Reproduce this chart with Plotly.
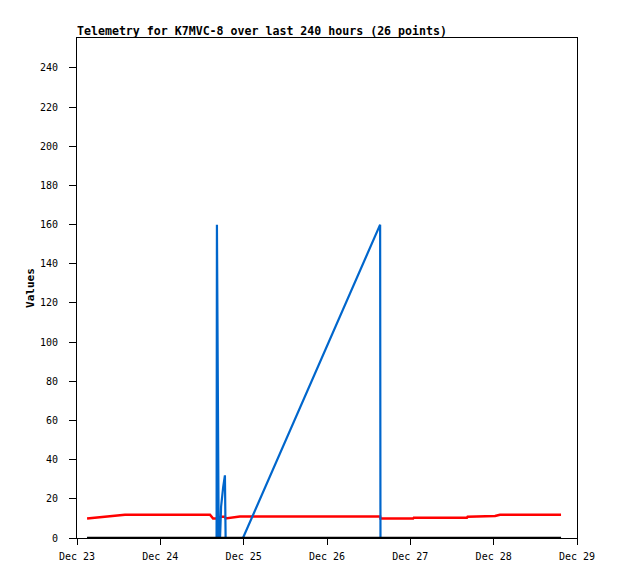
import plotly.graph_objects as go

# Sample times (26 telemetry points)
times = [
    "2012-12-23 02:54", "2012-12-23 08:24", "2012-12-23 13:48",
    "2012-12-24 14:18", "2012-12-24 15:12", "2012-12-24 16:12",
    "2012-12-24 16:18", "2012-12-24 16:36", "2012-12-24 16:48",
    "2012-12-24 17:12", "2012-12-24 17:30", "2012-12-24 18:06",
    "2012-12-24 18:36", "2012-12-24 18:48", "2012-12-24 20:54",
    "2012-12-24 22:54", "2012-12-24 23:48", "2012-12-26 15:18",
    "2012-12-26 15:24", "2012-12-27 00:48", "2012-12-27 01:00",
    "2012-12-27 16:18", "2012-12-27 16:30", "2012-12-28 00:24",
    "2012-12-28 01:48", "2012-12-28 19:24",
]

red_values = [
    9.9, 11.0, 11.9, 11.9, 9.9, 9.9, 10.0, 10.3, 10.5, 10.9, 10.9, 10.9,
    10.9, 10.0, 10.6, 11.0, 11.0, 11.0, 9.9, 9.9, 10.4, 10.4, 10.9, 11.2,
    11.9, 11.9,
]

blue_values = [
    0, 0, 0, 0, 0, 0, 160, 80, 0, 0, 16, 26, 32, 0, 0, 0, 0, 160, 0, 0,
    0, 0, 0, 0, 0, 0,
]

black_values = [0] * 26

y_tick_vals = list(range(0, 241, 20))
x_tick_vals = ["2012-12-23", "2012-12-24", "2012-12-25", "2012-12-26",
               "2012-12-27", "2012-12-28", "2012-12-29"]
x_tick_text = ["Dec 23", "Dec 24", "Dec 25", "Dec 26", "Dec 27", "Dec 28", "Dec 29"]

mono = "DejaVu Sans Mono"

# page body has an 8px margin, so the figure is sized to fit inside it
W, H = 610, 571

fig = go.Figure()
fig.add_trace(go.Scatter(x=times, y=red_values, mode="lines",
                         line=dict(color="#FF0000", width=2.5), showlegend=False))
fig.add_trace(go.Scatter(x=times, y=blue_values, mode="lines",
                         line=dict(color="#0066CC", width=2.2), showlegend=False))
fig.add_trace(go.Scatter(x=times, y=black_values, mode="lines",
                         line=dict(color="#000000", width=2.5), showlegend=False))

fig.update_layout(
    width=W, height=H,
    margin=dict(l=69, r=41, t=30, b=41, autoexpand=False),
    paper_bgcolor="white", plot_bgcolor="white",
    font=dict(family=mono, size=10, color="black"),
    title=dict(text="<b>Telemetry for K7MVC-8 over last 240 hours (26 points)</b>",
               x=69 / W, xanchor="left", xref="container",
               y=1 - 22.5 / H, yanchor="middle", yref="container",
               font=dict(family=mono, size=11.6, color="black")),
    xaxis=dict(type="date", range=["2012-12-23 00:00", "2012-12-29 00:00"],
               tickvals=x_tick_vals, ticktext=x_tick_text,
               showgrid=False, zeroline=False, showline=True, mirror=True,
               linecolor="black", linewidth=1, ticks="outside", ticklen=6,
               tickcolor="black", ticklabelstandoff=3,
               tickfont=dict(family=mono, size=10)),
    yaxis=dict(range=[0, 255.3], tickvals=y_tick_vals,
               showgrid=False, zeroline=False, showline=True, mirror=True,
               linecolor="black", linewidth=1, ticks="outside", ticklen=7,
               tickcolor="black", ticklabelstandoff=9,
               tickfont=dict(family=mono, size=10),
               title=dict(text="<b>Values</b>", standoff=3,
                          font=dict(family=mono, size=11))),
)

fig.write_html("out.html")
